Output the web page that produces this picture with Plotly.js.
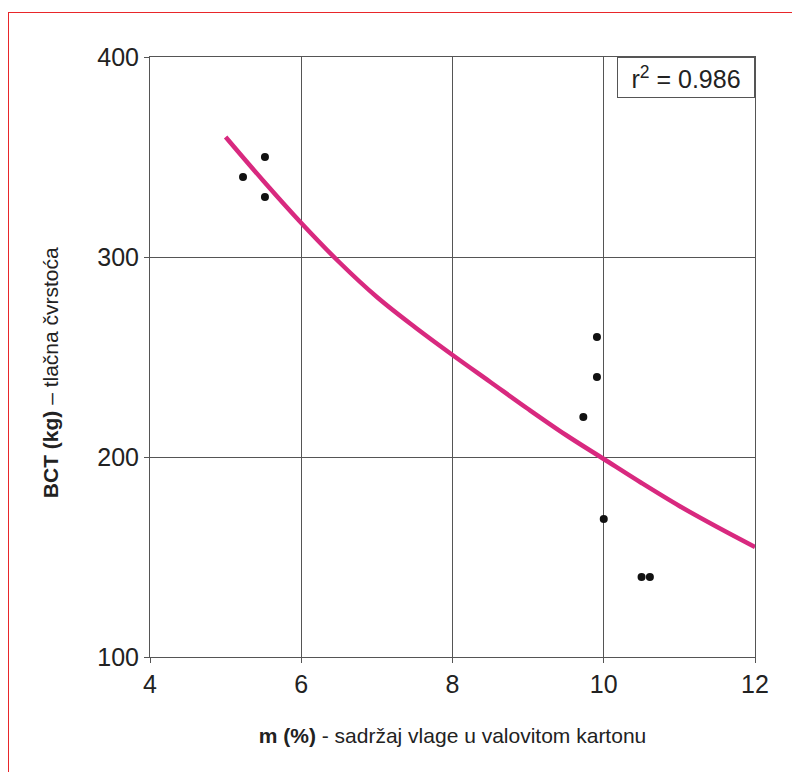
<!DOCTYPE html>
<html><head><meta charset="utf-8">
<script src="https://cdn.plot.ly/plotly-3.0.1.min.js"></script>
<style>
html,body{margin:0;padding:0;background:#fff;}
#frame{position:absolute;left:8px;top:12px;width:784px;height:760px;border-top:1px solid #e8262a;border-left:1px solid #e8262a;}
#chart{position:absolute;left:0;top:0;width:792px;height:772px;}
</style></head>
<body>
<div id="frame"></div>
<div id="chart"></div>
<script>
// measured points
const moistureX = [5.23, 5.52, 5.52, 9.73, 9.91, 9.91, 10.0, 10.5, 10.61];
const bctY = [340, 350, 330, 220, 260, 240, 169, 140, 140];
// fitted curve
const fitX = [5, 5.5, 6, 6.5, 7, 7.5, 8, 8.5, 9, 9.5, 10, 10.5, 11, 11.5, 12];
const fitY = [360, 338, 317, 297.5, 280, 265, 251, 237.5, 224, 211, 199, 187, 175.5, 165, 155];
const xTicks = [4, 6, 8, 10, 12];
const yTicks = [100, 200, 300, 400];
const xTitle = '<b>m (%)</b> - sadržaj vlage u valovitom kartonu';
const yTitle = '<b>BCT (kg)</b> – tlačna čvrstoća';
const r2Label = 'r<sup>2</sup> = 0.986';

const font = 'Liberation Sans, Arial, sans-serif';
Plotly.newPlot('chart', [
  {x: fitX, y: fitY, mode: 'lines', line: {color: '#d8297f', width: 4.5, shape: 'spline', smoothing: 1}, hoverinfo: 'skip'},
  {x: moistureX, y: bctY, mode: 'markers', marker: {color: '#111', size: 8}}
], {
  width: 792, height: 772,
  paper_bgcolor: 'rgba(0,0,0,0)', plot_bgcolor: '#fff',
  margin: {l: 150, r: 37, t: 57, b: 115},
  showlegend: false,
  font: {family: font, color: '#222'},
  xaxis: {range: [4, 12], tickvals: xTicks, ticks: 'outside', ticklen: 5, tickcolor: '#555',
    showgrid: true, gridcolor: '#555', gridwidth: 1, zeroline: false,
    showline: true, linecolor: '#555', linewidth: 1, mirror: true,
    tickfont: {size: 25, family: font, color: '#222'},
    title: {text: xTitle, font: {size: 21, family: font, color: '#222'}, standoff: 31}},
  yaxis: {range: [100, 400], tickvals: yTicks, ticks: 'outside', ticklen: 5, tickcolor: '#555',
    showgrid: true, gridcolor: '#555', gridwidth: 1, zeroline: false,
    showline: true, linecolor: '#555', linewidth: 1, mirror: true,
    tickfont: {size: 25, family: font, color: '#222'}},
  annotations: [{
    xref: 'paper', yref: 'paper', x: 1, y: 1, xanchor: 'right', yanchor: 'top',
    text: r2Label, showarrow: false, width: 130, height: 33, align: 'center', valign: 'middle',
    font: {size: 25, family: font, color: '#222'},
    bordercolor: '#555', borderwidth: 1, borderpad: 3, bgcolor: '#fff'
  }, {
    xref: 'paper', yref: 'paper', x: 0, y: 0.473, xshift: -100, xanchor: 'center', yanchor: 'middle',
    text: yTitle, textangle: -90, showarrow: false,
    font: {size: 21, family: font, color: '#222'}
  }]
}, {displayModeBar: false, staticPlot: true});
</script>
</body></html>
